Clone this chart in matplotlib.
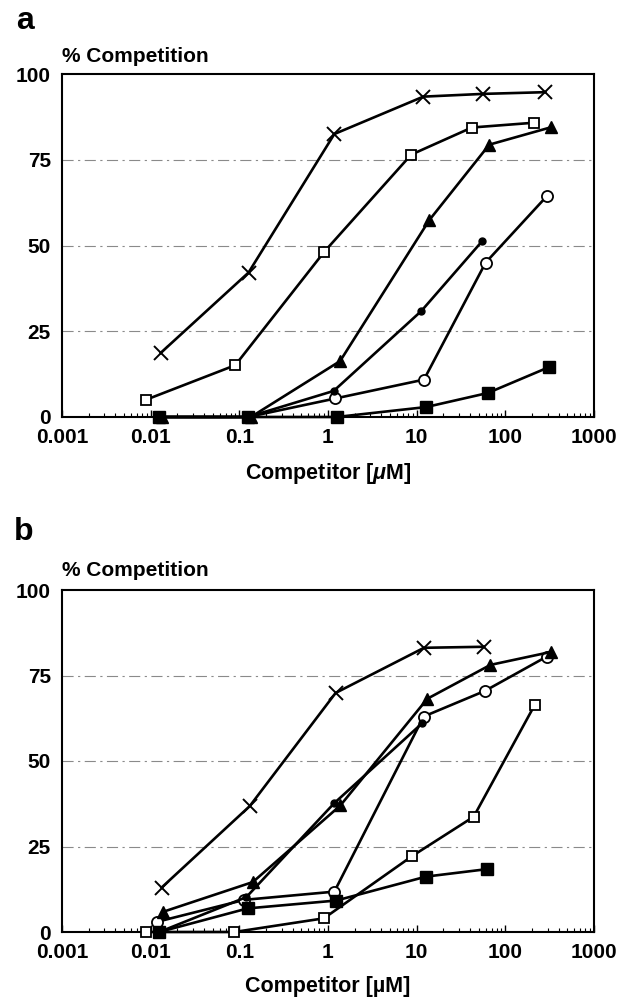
import numpy as np
import matplotlib
matplotlib.use("Agg")
import matplotlib.pyplot as plt
from matplotlib.ticker import LogLocator, NullFormatter

plt.rcParams['font.family'] = ['Liberation Sans', 'DejaVu Sans']
plt.rcParams['font.weight'] = 'bold'
plt.rcParams['mathtext.fontset'] = 'custom'
plt.rcParams['mathtext.it'] = 'Liberation Sans:italic:bold'
plt.rcParams['mathtext.rm'] = 'Liberation Sans:bold'

# ---- panel a ----
a_cross_x = [0.013, 0.127, 1.18, 11.9, 56, 282]
a_cross_y = [18.7, 42.1, 82.5, 93.4, 94.2, 94.7]
a_osq_x = [0.0088, 0.09, 0.91, 8.7, 42, 212]
a_osq_y = [5.0, 15.1, 48.2, 76.5, 84.4, 85.8]
a_tri_x = [0.0135, 0.135, 1.37, 13.9, 66, 331]
a_tri_y = [0, 0, 16.3, 57.4, 79.4, 84.5]
a_dot_x = [0.0125, 0.125, 1.16, 11.3, 55]
a_dot_y = [0, 0, 7.6, 30.9, 51.3]
a_ocir_x = [0.0125, 0.125, 1.21, 12.1, 60, 297]
a_ocir_y = [0, 0, 5.4, 10.9, 45, 64.5]
a_fsq_x = [0.0125, 0.125, 1.25, 12.8, 63.5, 315]
a_fsq_y = [0, 0, 0, 2.9, 7.0, 14.6]

# ---- panel b ----
b_cross_x = [0.0133, 0.131, 1.22, 12.1, 57]
b_cross_y = [13.0, 36.8, 69.9, 83.1, 83.4]
b_tri_x = [0.0138, 0.142, 1.38, 13.2, 68, 329]
b_tri_y = [5.9, 14.6, 37.0, 68.2, 78.1, 81.9]
b_osq_x = [0.0088, 0.088, 0.9, 8.9, 44, 216]
b_osq_y = [0, 0, 4.0, 22.2, 33.7, 66.5]
b_fsq_x = [0.0125, 0.124, 1.24, 12.8, 63]
b_fsq_y = [0, 6.9, 9.2, 16.2, 18.4]
b_ocir_x = [0.0119, 0.114, 1.18, 12, 59, 292]
b_ocir_y = [3.0, 9.4, 11.8, 63, 70.5, 80.5]
b_dot_x = [0.0125, 0.12, 1.18, 11.5]
b_dot_y = [0, 10.2, 37.7, 61]

xticks = [0.001, 0.01, 0.1, 1, 10, 100, 1000]
xticklabels = ["0.001", "0.01", "0.1", "1", "10", "100", "1000"]
yticks = [0, 25, 50, 75, 100]

styles = {
    "cross": dict(marker="x", ms=10, mew=1.4, mfc="black"),
    "osq": dict(marker="s", ms=7, mew=1.3, mfc="white"),
    "tri": dict(marker="^", ms=8, mew=1.0, mfc="black"),
    "dot": dict(marker="o", ms=5, mew=1.0, mfc="black"),
    "ocir": dict(marker="o", ms=8, mew=1.3, mfc="white"),
    "fsq": dict(marker="s", ms=8, mew=1.0, mfc="black"),
}


def setup_axes(ax):
    ax.set_xscale("log")
    ax.set_xlim(0.001, 1000)
    ax.set_ylim(0, 100)
    ax.set_xticks(xticks)
    ax.set_xticklabels(xticklabels, fontsize=15, fontweight="bold")
    ax.xaxis.set_minor_locator(LogLocator(base=10, subs=np.arange(2, 10)))
    ax.xaxis.set_minor_formatter(NullFormatter())
    ax.set_yticks(yticks)
    ax.set_yticklabels([str(v) for v in yticks], fontsize=15, fontweight="bold")
    ax.tick_params(axis="x", which="major", direction="in", length=5, width=1.0, pad=8)
    ax.tick_params(axis="x", which="minor", direction="in", length=3, width=0.8)
    ax.tick_params(axis="y", length=0, pad=8)
    for v in [25, 50, 75]:
        ax.axhline(v, color="#8a8a8a", lw=0.8, ls=(0, (10, 4, 2, 4)), zorder=1)
    for s in ax.spines.values():
        s.set_linewidth(1.5)
        s.set_color("black")


def draw(ax, series):
    for x, y, key in series:
        ax.plot(x, y, color="black", lw=1.9, mec="black", zorder=3,
                clip_on=False, **styles[key])


fig = plt.figure(figsize=(6.34, 10), dpi=100)
ax_a = fig.add_axes([0.0978, 0.583, 0.839, 0.343])
ax_b = fig.add_axes([0.0978, 0.068, 0.839, 0.342])

setup_axes(ax_a)
draw(ax_a, [
    (a_ocir_x, a_ocir_y, "ocir"),
    (a_dot_x, a_dot_y, "dot"),
    (a_fsq_x, a_fsq_y, "fsq"),
    (a_tri_x, a_tri_y, "tri"),
    (a_osq_x, a_osq_y, "osq"),
    (a_cross_x, a_cross_y, "cross"),
])
ax_a.set_xlabel("Competitor [$\\mu$M]", fontsize=15.5, fontweight="bold", labelpad=10)

setup_axes(ax_b)
draw(ax_b, [
    (b_osq_x, b_osq_y, "osq"),
    (b_ocir_x, b_ocir_y, "ocir"),
    (b_fsq_x, b_fsq_y, "fsq"),
    (b_dot_x, b_dot_y, "dot"),
    (b_tri_x, b_tri_y, "tri"),
    (b_cross_x, b_cross_y, "cross"),
])
ax_b.set_xlabel("Competitor [\u00b5M]", fontsize=15.5, fontweight="bold", labelpad=10)

fig.text(0.025, 0.979, "a", fontsize=23, fontweight="bold", va="center", ha="left")
fig.text(0.022, 0.468, "b", fontsize=23, fontweight="bold", va="center", ha="left")
fig.text(0.0978, 0.944, "% Competition", fontsize=15, fontweight="bold", va="center", ha="left")
fig.text(0.0978, 0.430, "% Competition", fontsize=15, fontweight="bold", va="center", ha="left")

fig.savefig("out.png", dpi=100)
